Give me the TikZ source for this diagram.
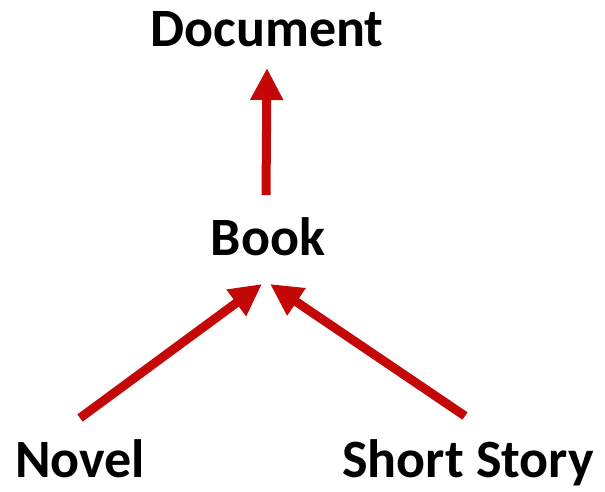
\documentclass[tikz,border=0pt]{standalone}
\usepackage{fontspec}
\setmainfont{Carlito}
\usepackage{tikz}
\usetikzlibrary{arrows.meta,positioning,calc}
\definecolor{linkred}{RGB}{196,8,8}

\begin{document}
\begin{tikzpicture}[x=1pt, y=1pt,
	every node/.style={inner sep=0pt, anchor=base, font=\fontsize{54}{60}\selectfont\bfseries, text height=34pt},
	link/.style={-{Triangle[width=31pt,length=32pt]}, draw=linkred, fill=linkred, line width=9pt}]

	\useasboundingbox (0,0) rectangle (605,491);

	\node (DOC) at (267,444) {Document};
	\node (BOOK) at (268,236) {Book};
	\node (NOV) at (80,14) {Novel};
	\node (SS) at (468,14) {Short Story};

	\draw[link] (BOOK.base) ++(-2,60) -- ([yshift=-21pt]DOC.base);
	\draw[link] ([yshift=59pt]NOV.base) -- ([xshift=-6pt,yshift=-29pt]BOOK.base);
	\draw[link] ([xshift=-3pt,yshift=61pt]SS.base) -- ([xshift=2pt,yshift=-29pt]BOOK.base);

\end{tikzpicture}
\end{document}
